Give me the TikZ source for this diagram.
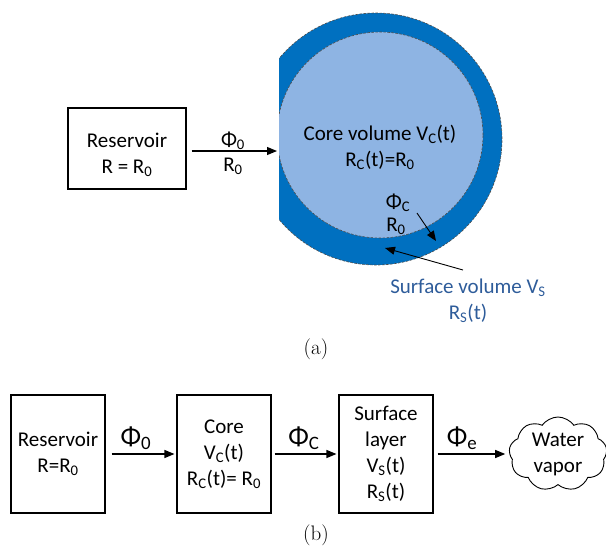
\documentclass[tikz,border=0pt]{standalone}
\usepackage{fontspec}
\newfontfamily\calib{Carlito}
\usetikzlibrary{arrows.meta,shapes.symbols}
\definecolor{outerblue}{RGB}{0,112,192}
\definecolor{innerblue}{RGB}{142,180,227}
\definecolor{surftext}{RGB}{46,92,154}
\newcommand{\sbs}[1]{\textsubscript{#1}}
\begin{document}
\begin{tikzpicture}[x=1pt,y=-1pt,
  txt/.style={font=\calib\fontsize{21}{26}\selectfont, align=center, inner sep=0pt},
  phitxt/.style={font=\calib\fontsize{27}{30}\selectfont, inner sep=0pt},
  box/.style={draw, line width=1.1pt, inner sep=0pt, align=center, font=\calib\fontsize{21}{26}\selectfont},
  arr/.style={-{Triangle[length=10pt,width=8pt]}, line width=1.1pt},
  dashrim/.style={draw=black!70, dash pattern=on 2.5pt off 1.5pt, line width=0.6pt},
  captxt/.style={font=\fontsize{21}{24}\selectfont, inner sep=0pt}]
\useasboundingbox (0,0) rectangle (606,552);
% ---------- (a) ----------
\begin{scope}
  \clip (279,0) rectangle (606,300);
  \node[circle, fill=outerblue, dashrim, minimum size=252pt, inner sep=0pt] (surf) at (376,139) {};
  \node[circle, fill=innerblue, dashrim, minimum size=206pt, inner sep=0pt] (core) at (380,135) {};
\end{scope}
\node[box, minimum width=118pt, minimum height=81pt] (res) at (127,148.5) {};
\node[txt] (restxt) at (127,155) {Reservoir\\R = R\sbs{0}};
\coordinate (a0) at (277,151);
\draw[arr] ([xshift=5pt]res.east |- a0) -- (a0);
\node[txt] (phi0) at (233,141) {Φ\sbs{0}};
\node[txt] (r0) at (233,166) {R\sbs{0}};
\node[txt] (coretxt) at (380,147) {Core volume V\sbs{C}(t)\\R\sbs{C}(t)=R\sbs{0}};
\node[txt] (phic) at (398,203) {Φ\sbs{C}};
\node[txt] (rc0) at (396,226) {R\sbs{0}};
\coordinate (c1) at (417,213);
\coordinate (c2) at (436,241);
\draw[arr, line width=0.9pt] (c1) -- (c2);
\coordinate (s1) at (463,270);
\coordinate (s2) at (385,248);
\draw[arr, line width=0.9pt] (s1) -- (s2);
\node[txt, text=surftext] (surftxt) at (468,301) {Surface volume V\sbs{S}\\R\sbs{S}(t)};
\node[captxt] (capa) at (316,349) {(a)};
% ---------- (b) ----------
\node[box, minimum width=94pt, minimum height=118pt] (resb) at (58,454) {Reservoir\\R=R\sbs{0}};
\node[box, minimum width=94pt, minimum height=118pt] (coreb) at (224,454) {Core\\V\sbs{C}(t)\\R\sbs{C}(t)= R\sbs{0}};
\node[box, minimum width=94pt, minimum height=118pt] (surfb) at (386,454) {Surface\\layer\\V\sbs{S}(t)\\R\sbs{S}(t)};
\node[cloud, draw, line width=0.9pt, cloud puffs=9, cloud puff arc=110, aspect=1.35, minimum width=98pt, minimum height=74pt, inner sep=0pt, align=center, font=\calib\fontsize{21}{26}\selectfont] (vap) at (558,454) {Water\\vapor};
\draw[arr] ([xshift=6pt]resb.east) -- ([xshift=-2pt]coreb.west);
\draw[arr] ([xshift=3pt]coreb.east) -- ([xshift=-2pt]surfb.west);
\draw[arr] ([xshift=4pt]surfb.east) -- ([xshift=-4pt]vap.west |- surfb.east);
\node[phitxt] (p0) at (136,438) {Φ\sbs{0}};
\node[phitxt] (pc) at (304,438) {Φ\sbs{C}};
\node[phitxt] (pe) at (462,438) {Φ\sbs{e}};
\node[captxt] (capb) at (316,535) {(b)};
\end{tikzpicture}
\end{document}
